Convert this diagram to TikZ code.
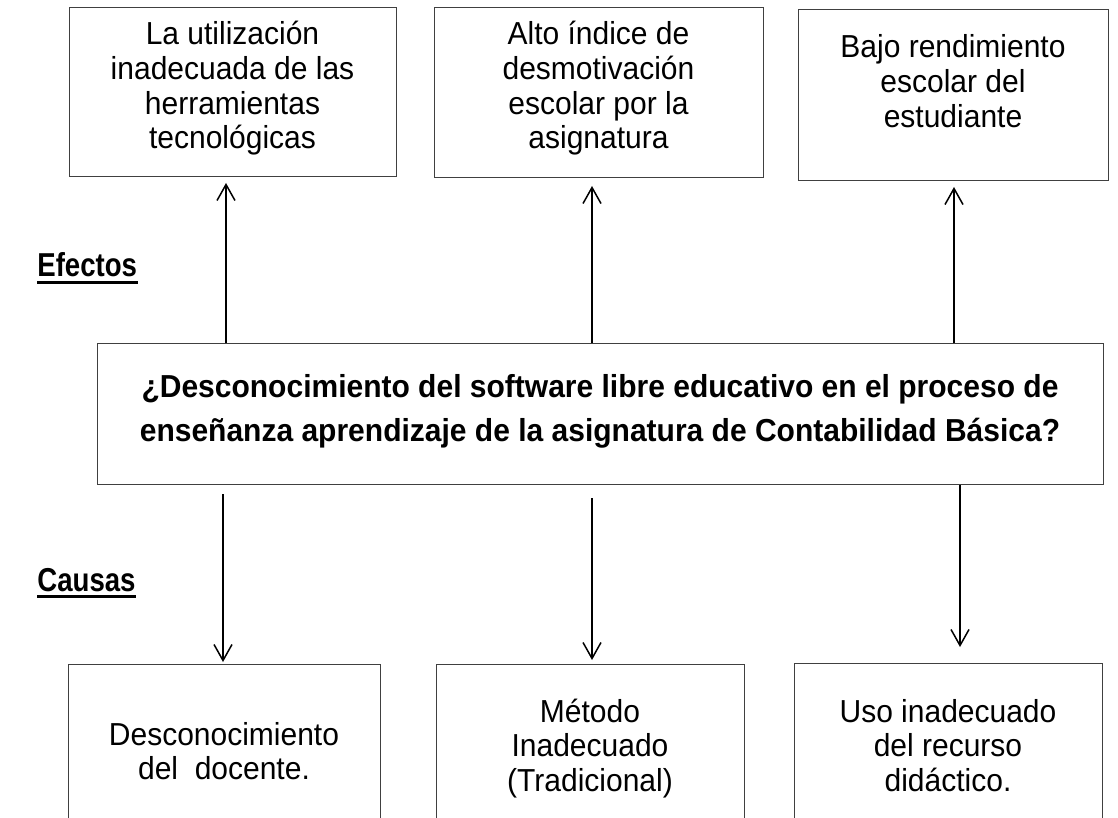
\documentclass[tikz,border=0pt]{standalone}
\usepackage{fontspec}
\setmainfont{Liberation Sans}
\usetikzlibrary{arrows.meta}
\newcommand{\vstretch}[1]{\scalebox{1}[1.06]{#1}}
\newcommand{\lstretch}[1]{\scalebox{1}[1.2]{#1}}
\begin{document}
\begin{tikzpicture}[x=0.5pt,y=-0.5pt,
  box/.style={draw=black!75, line width=0.5pt, inner sep=0pt, anchor=north west},
  txt/.style={inner sep=0pt, anchor=base, font=\fontsize{15pt}{16.3pt}\selectfont},
  btxt/.style={inner sep=0pt, anchor=base, font=\fontsize{15pt}{21.2pt}\selectfont\bfseries},
  lbl/.style={inner sep=0pt, anchor=base west, font=\fontsize{13.8pt}{16pt}\selectfont\bfseries},
  arr/.style={draw=black, line width=0.75pt, -{Straight Barb[length=8pt,width=9pt]}},
  ul/.style={draw=black, line width=1.5pt}
]
\useasboundingbox (0,0) rectangle (1118,818);
\fill[white] (0,0) rectangle (1118,818);

% effect boxes
\node[box, minimum width=163.5pt, minimum height=84.5pt] (e1) at (69,7) {};
\node[box, minimum width=164.5pt, minimum height=85pt] (e2) at (434,7) {};
\node[box, minimum width=155pt, minimum height=85.5pt] (e3) at (798,9) {};
\node[txt] (t1) at (232.5,45) {\vstretch{\parbox[t]{160pt}{\centering La utilización\\inadecuada de las\\herramientas\\tecnológicas}}};
\node[txt] (t2) at (598.5,45) {\vstretch{\parbox[t]{160pt}{\centering Alto índice de\\desmotivación\\escolar por la\\asignatura}}};
\node[txt] (t3) at (953,58) {\vstretch{\parbox[t]{150pt}{\centering Bajo rendimiento\\escolar del\\estudiante}}};

% central problem
\node[box, minimum width=503pt, minimum height=70.5pt] (q) at (97,343) {};
\node[btxt] (tq) at (600,397) {\vstretch{\parbox[t]{500pt}{\centering ¿Desconocimiento del software libre educativo en el proceso de\\enseñanza aprendizaje de la asignatura de Contabilidad Básica?}}};

% cause boxes (run past the lower edge)
\node[box, minimum width=156pt, minimum height=100pt] (c1) at (68,664) {};
\node[box, minimum width=154pt, minimum height=100pt] (c2) at (436,664) {};
\node[box, minimum width=154pt, minimum height=100pt] (c3) at (794,663) {};
\node[txt] (s1) at (224,745) {\vstretch{\parbox[t]{150pt}{\centering Desconocimiento\\del\ \ docente.}}};
\node[txt] (s2) at (590,722) {\vstretch{\parbox[t]{150pt}{\centering Método\\Inadecuado\\(Tradicional)}}};
\node[txt] (s3) at (948,722) {\vstretch{\parbox[t]{150pt}{\centering Uso inadecuado\\del recurso\\didáctico.}}};

% side labels
\node[lbl] (ef) at (37,277) {\lstretch{Efectos}};
\draw[ul] ([yshift=-2.6pt]ef.base west) -- ([yshift=-2.6pt]ef.base east);
\node[lbl] (ca) at (37,591) {\lstretch{Causas}};
\draw[ul] ([yshift=-2.6pt]ca.base west) -- ([yshift=-2.6pt]ca.base east);

% arrow columns
\coordinate (u1) at (226,0);
\coordinate (u2) at (592,0);
\coordinate (u3) at (954,0);
\coordinate (d1) at (223,0);
\coordinate (d2) at (592,0);
\coordinate (d3) at (960,0);

\draw[arr] (u1 |- q.north) -- ([yshift=-3pt]u1 |- e1.south);
\draw[arr] (u2 |- q.north) -- ([yshift=-4pt]u2 |- e2.south);
\draw[arr] (u3 |- q.north) -- ([yshift=-3pt]u3 |- e3.south);

\draw[arr] ([yshift=-4.5pt]d1 |- q.south) -- ([yshift=1pt]d1 |- c1.north);
\draw[arr] ([yshift=-6.5pt]d2 |- q.south) -- ([yshift=2pt]d2 |- c2.north);
\draw[arr] (d3 |- q.south) -- ([yshift=8pt]d3 |- c3.north);
\end{tikzpicture}
\end{document}
